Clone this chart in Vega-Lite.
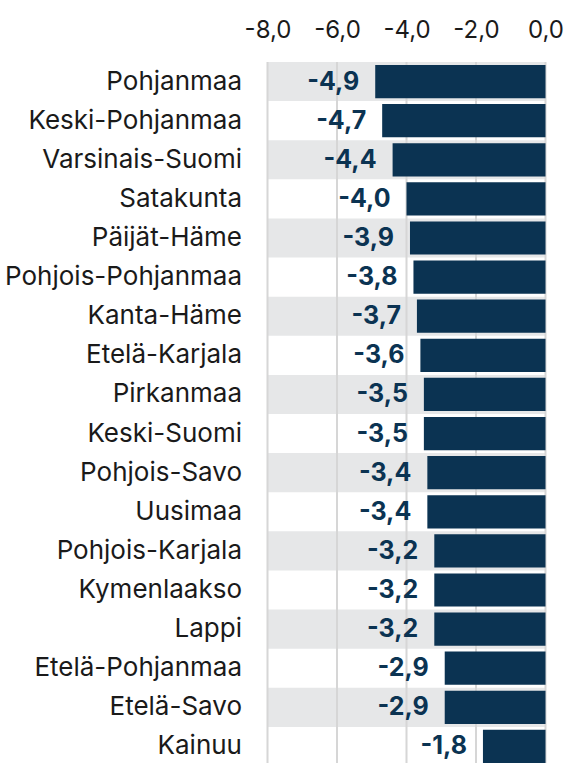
{
  "$schema": "https://vega.github.io/schema/vega-lite/v6.json",
  "autosize": "none",
  "width": 278,
  "height": 704,
  "padding": {"left": 267.5, "top": 62, "right": 22.5, "bottom": 0},
  "config": {
    "view": {"stroke": null},
    "font": "Inter",
    "locale": {"number": {"decimal": ",", "thousands": " ", "grouping": [3], "currency": ["", " €"], "minus": "-"}}
  },
  "data": {
    "values": [
      {"region": "Pohjanmaa", "value": -4.9},
      {"region": "Keski-Pohjanmaa", "value": -4.7},
      {"region": "Varsinais-Suomi", "value": -4.4},
      {"region": "Satakunta", "value": -4.0},
      {"region": "Päijät-Häme", "value": -3.9},
      {"region": "Pohjois-Pohjanmaa", "value": -3.8},
      {"region": "Kanta-Häme", "value": -3.7},
      {"region": "Etelä-Karjala", "value": -3.6},
      {"region": "Pirkanmaa", "value": -3.5},
      {"region": "Keski-Suomi", "value": -3.5},
      {"region": "Pohjois-Savo", "value": -3.4},
      {"region": "Uusimaa", "value": -3.4},
      {"region": "Pohjois-Karjala", "value": -3.2},
      {"region": "Kymenlaakso", "value": -3.2},
      {"region": "Lappi", "value": -3.2},
      {"region": "Etelä-Pohjanmaa", "value": -2.9},
      {"region": "Etelä-Savo", "value": -2.9},
      {"region": "Kainuu", "value": -1.8}
    ]
  },
  "encoding": {
    "y": {
      "field": "region",
      "type": "nominal",
      "sort": ["Pohjanmaa", "Keski-Pohjanmaa", "Varsinais-Suomi", "Satakunta", "Päijät-Häme", "Pohjois-Pohjanmaa", "Kanta-Häme", "Etelä-Karjala", "Pirkanmaa", "Keski-Suomi", "Pohjois-Savo", "Uusimaa", "Pohjois-Karjala", "Kymenlaakso", "Lappi", "Etelä-Pohjanmaa", "Etelä-Savo", "Kainuu"],
      "scale": {"paddingInner": 0, "paddingOuter": 0},
      "axis": {
        "title": null,
        "domain": false,
        "ticks": false,
        "labelFontSize": 26,
        "labelLimit": 400,
        "labelColor": "#1a1a1a",
        "labelPadding": 26
      }
    }
  },
  "layer": [
    {
      "transform": [
        {"window": [{"op": "row_number", "as": "rn"}]},
        {"filter": "datum.rn % 2 == 1"}
      ],
      "mark": {"type": "rect", "color": "#e6e7e8"},
      "encoding": {
        "x": {"datum": -8, "type": "quantitative"},
        "x2": {"datum": 0}
      }
    },
    {
      "data": {"values": [{"t": -8}, {"t": -6}, {"t": -4}, {"t": -2}, {"t": 0}]},
      "mark": {"type": "rule", "color": "#d6d6d6", "strokeWidth": 2},
      "encoding": {
        "x": {"field": "t", "type": "quantitative"},
        "y": {"value": 0},
        "y2": {"value": 704}
      }
    },
    {
      "mark": {"type": "bar", "color": "#0b3352", "height": {"band": 0.85}},
      "encoding": {
        "x": {
          "field": "value",
          "type": "quantitative",
          "scale": {"domain": [-8, 0], "nice": false},
          "axis": {
            "orient": "top",
            "values": [-8, -6, -4, -2, 0],
            "format": ".1f",
            "title": null,
            "domain": false,
            "ticks": false,
            "grid": false,
            "labelFlush": false,
            "labelOverlap": false,
            "labelFontSize": 24,
            "labelColor": "#1a1a1a",
            "labelPadding": 20
          }
        }
      }
    },
    {
      "mark": {"type": "text", "align": "right", "baseline": "middle", "dx": -16, "fontSize": 25, "fontWeight": "bold", "color": "#0b3352"},
      "encoding": {
        "x": {"field": "value", "type": "quantitative"},
        "text": {"field": "value", "type": "quantitative", "format": ".1f"}
      }
    }
  ]
}
